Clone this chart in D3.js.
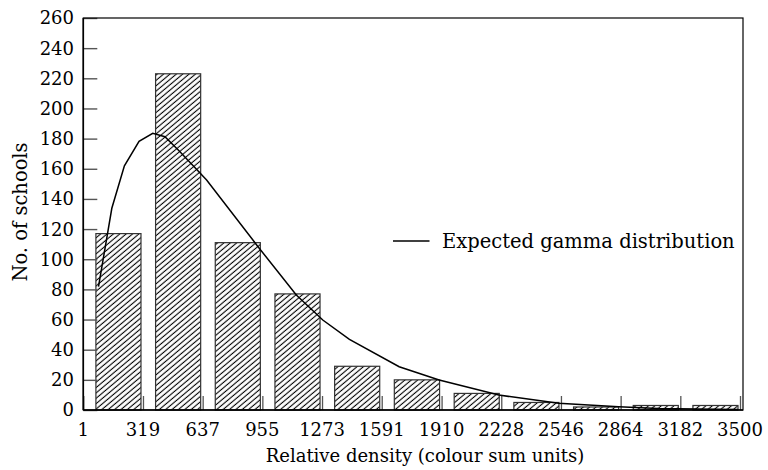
<!DOCTYPE html>
<html>
<head>
<meta charset="utf-8">
<script src="https://cdn.jsdelivr.net/npm/d3@7"></script>
<style>
  html, body { margin: 0; padding: 0; background: #fff; }
  svg { display: block; }
  text { font-family: "DejaVu Serif", serif; fill: #000; }
</style>
</head>
<body>
<svg id="chart" width="768" height="470"></svg>
<script>
// Histogram bin edges (relative density, colour sum units) and tick labels
const binEdges = [1, 319, 637, 955, 1273, 1591, 1910, 2228, 2546, 2864, 3182, 3500];
const xTickLabels = ["1", "319", "637", "955", "1273", "1591", "1910", "2228", "2546", "2864", "3182", "3500"];
const yTickValues = [0, 20, 40, 60, 80, 100, 120, 140, 160, 180, 200, 220, 240, 260];

// Observed number of schools per bin
const schoolCounts = [117, 223, 111, 77, 29, 20, 11, 5, 2, 3, 3];

// Expected gamma distribution curve (x in colour sum units, y in schools)
const gammaX = [82, 153, 220, 298, 371, 436, 516, 658, 932, 1136, 1277, 1419, 1684, 1897, 2215, 2534, 2853, 3065, 3490];
const gammaY = [81.8, 133.8, 162.0, 178.2, 183.5, 181.3, 171.3, 152.5, 108.3, 76.3, 59.7, 46.9, 28.7, 19.9, 9.9, 4.4, 2.2, 1.0, 0.3];

const legendLabel = "Expected gamma distribution";
const xTitle = "Relative density (colour sum units)";
const yTitle = "No. of schools";

const plotRight = 743;

const svg = d3.select("#chart");

const x = d3.scaleLinear().domain([1, 3500]).range([83.3, 740]);
const y = d3.scaleLinear().domain([0, 260]).range([410, 18]);

// Diagonal hatch fill for the bars
const defs = svg.append("defs");
const pat = defs.append("pattern")
  .attr("id", "hatch")
  .attr("patternUnits", "userSpaceOnUse")
  .attr("width", 8).attr("height", 4.1)
  .attr("patternTransform", "rotate(-40)");
pat.append("line")
  .attr("x1", 0).attr("y1", 2).attr("x2", 8).attr("y2", 2)
  .attr("stroke", "#000").attr("stroke-width", 1.1);

// Bars: each sits inside its bin, inset from the bin edges
const bars = schoolCounts.map((c, i) => ({ x0: binEdges[i], x1: binEdges[i + 1], v: c }));
svg.append("g").selectAll("rect")
  .data(bars)
  .join("rect")
  .attr("x", d => x(d.x0) + 12.6)
  .attr("width", d => x(d.x1) - x(d.x0) - 14.6)
  .attr("y", d => y(d.v))
  .attr("height", d => y(0) - y(d.v))
  .attr("fill", "url(#hatch)")
  .attr("stroke", "#333")
  .attr("stroke-width", 1.2);

// Inward ticks on the y axis
const yAxis = d3.axisRight(y).tickValues(yTickValues).tickSize(14).tickFormat("");
const gy = svg.append("g").attr("transform", `translate(${x(1)},0)`).call(yAxis);
gy.select(".domain").remove();
gy.selectAll(".tick line").attr("stroke", "#555").attr("stroke-width", 1.4);

// Inward ticks on the x axis
const xAxis = d3.axisTop(x).tickValues(binEdges).tickSize(14).tickFormat("");
const gx = svg.append("g").attr("transform", `translate(0,${y(0)})`).call(xAxis);
gx.select(".domain").remove();
gx.selectAll(".tick line").attr("stroke", "#555").attr("stroke-width", 1.3);

// Tick labels
svg.append("g").selectAll("text")
  .data(yTickValues)
  .join("text")
  .attr("x", 74)
  .attr("y", d => y(d))
  .attr("dy", "0.36em")
  .attr("text-anchor", "end")
  .attr("font-size", 18)
  .text(d => d);

svg.append("g").selectAll("text")
  .data(binEdges)
  .join("text")
  .attr("x", d => x(d))
  .attr("y", 436)
  .attr("text-anchor", "middle")
  .attr("font-size", 18)
  .text((d, i) => xTickLabels[i]);

// Plot frame
svg.append("rect")
  .attr("x", x(1)).attr("y", y(260))
  .attr("width", plotRight - x(1)).attr("height", y(0) - y(260))
  .attr("fill", "none")
  .attr("stroke", "#000")
  .attr("stroke-width", 1.2);
svg.append("line")
  .attr("x1", x(1)).attr("x2", x(1)).attr("y1", y(260)).attr("y2", y(0))
  .attr("stroke", "#000").attr("stroke-width", 1.6);
svg.append("line")
  .attr("x1", x(1)).attr("x2", plotRight).attr("y1", y(0)).attr("y2", y(0))
  .attr("stroke", "#000").attr("stroke-width", 1.6);

// Expected gamma distribution curve
const line = d3.line().x(d => x(d[0])).y(d => y(d[1]));
svg.append("path")
  .datum(gammaX.map((gx, i) => [gx, gammaY[i]]))
  .attr("d", line)
  .attr("fill", "none")
  .attr("stroke", "#000")
  .attr("stroke-width", 1.5);

// Legend
svg.append("line")
  .attr("x1", 393).attr("x2", 429.5).attr("y1", 241).attr("y2", 241)
  .attr("stroke", "#000").attr("stroke-width", 1.5);
svg.append("text")
  .attr("x", 442).attr("y", 241).attr("dy", "0.36em")
  .attr("font-size", 19.5)
  .text(legendLabel);

// Axis titles
svg.append("text")
  .attr("x", 425).attr("y", 462)
  .attr("text-anchor", "middle")
  .attr("font-size", 18)
  .text(xTitle);
svg.append("text")
  .attr("transform", `translate(27,212) rotate(-90)`)
  .attr("text-anchor", "middle")
  .attr("font-size", 19.5)
  .text(yTitle);
</script>
</body>
</html>
